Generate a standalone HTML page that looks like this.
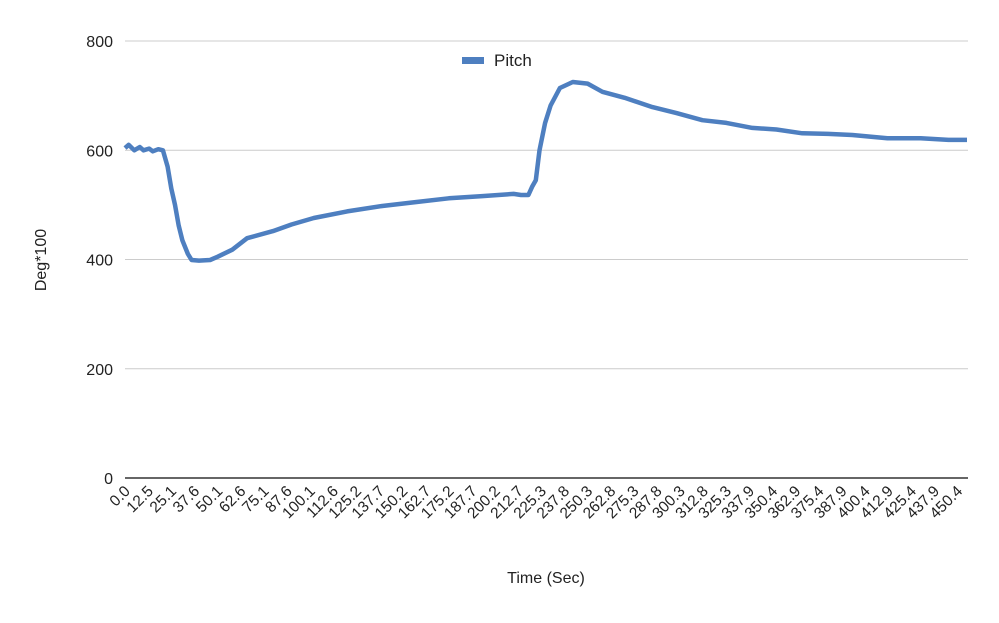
<!DOCTYPE html>
<html><head><meta charset="utf-8"><style>
body{margin:0;background:#fff;font-family:"Liberation Sans",Arial,sans-serif;}
svg text{font-family:"Liberation Sans",Arial,sans-serif;fill:#222;}
</style></head><body>
<svg id="chart" width="999" height="618" xmlns="http://www.w3.org/2000/svg">
<g id="grid"></g>
<g id="yticks"></g>
<g id="xticks"></g>
<g id="series"></g>
<g>
<rect x="462" y="57" width="22" height="7" fill="#4e7fc0"/>
<text x="494" y="66" font-size="17">Pitch</text>
</g>
<text transform="translate(46,260) rotate(-90)" text-anchor="middle" font-size="16">Deg*100</text>
<text x="546" y="583" text-anchor="middle" font-size="16">Time (Sec)</text>
</svg>
<script>
const yTicks=[0,200,400,600,800];
const xLabels=["0.0","12.5","25.1","37.6","50.1","62.6","75.1","87.6","100.1","112.6","125.2","137.7","150.2","162.7","175.2","187.7","200.2","212.7","225.3","237.8","250.3","262.8","275.3","287.8","300.3","312.8","325.3","337.9","350.4","362.9","375.4","387.9","400.4","412.9","425.4","437.9","450.4"];
const times=[0,2,5,8,10,13,15,18,20.5,23,25,27,29,31,34,36,40,46,50,58,66,80,90,102,120,139,157,175,193,210,214,218,220,222,224,227,230,235,242,250,258,270,285,298,312,325,339,352,366,380,393,412,430,445,455];
const pitch=[604,610,600,606,600,603,598,602,600,570,530,500,462,435,410,399,398,399,405,418,439,452,464,476,488,498,505,512,516,520,518,518,533,545,600,650,682,714,725,722,707,696,679,668,655,650,641,638,631,630,628,622,622,619,619];
</script>
<script>
const L=125,R=967,T=41,B=478,tMax=455;
const xS=t=>L+(t/tMax)*(R-L);
const yS=v=>B-(v/800)*(B-T);
const NS="http://www.w3.org/2000/svg";
const g=document.getElementById('grid'),yt=document.getElementById('yticks'),xt=document.getElementById('xticks'),sr=document.getElementById('series');
yTicks.forEach(v=>{
 const l=document.createElementNS(NS,'line');
 
 
 l.setAttribute('x1',L);l.setAttribute('x2',R+1);l.setAttribute('y1',yS(v));l.setAttribute('y2',yS(v));
 l.setAttribute('stroke',v===0?'#333':'#ccc');l.setAttribute('stroke-width',v===0?1.5:1);
 g.appendChild(l);
 const t=document.createElementNS(NS,'text');
 
 
 t.setAttribute('x',113);t.setAttribute('y',yS(v)+6);t.setAttribute('text-anchor','end');t.setAttribute('font-size','16');
 t.textContent=v;yt.appendChild(t);
});
const step=23.12;
xLabels.forEach((s,i)=>{
 const x=131+i*step;
 const t=document.createElementNS(NS,'text');
 
 
 t.setAttribute('transform','translate('+x+',492) rotate(-45)');
 t.setAttribute('text-anchor','end');t.setAttribute('font-size','15.5');
 t.textContent=s;xt.appendChild(t);
});
const n=Math.min(times.length,pitch.length);
let d='';
for(let i=0;i<n;i++){
 d+=(i?'L':'M')+xS(times[i]).toFixed(1)+','+yS(pitch[i]).toFixed(1);
}
const p=document.createElementNS(NS,'path');


p.setAttribute('d',d);p.setAttribute('fill','none');p.setAttribute('stroke','#4e7fc0');p.setAttribute('stroke-width','4.5');p.setAttribute('stroke-linejoin','round');
sr.appendChild(p);
</script>
</body></html>
